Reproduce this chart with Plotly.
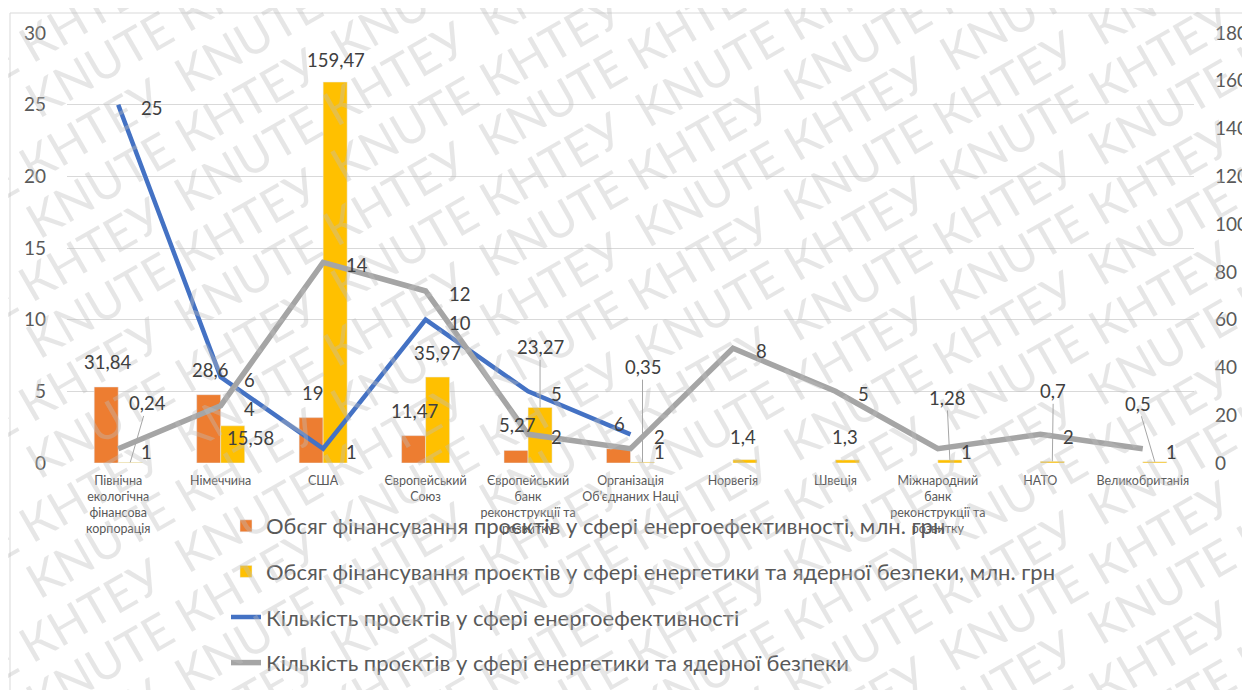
import math

import plotly.graph_objects as go

categories = [
    "Північна екологічна фінансова корпорація",
    "Німеччина",
    "США",
    "Європейський Союз",
    "Європейський банк реконструкції та розвитку",
    "Організація Об’єднаних Націй",
    "Норвегія",
    "Швеція",
    "Міжнародний банк реконструкції та розвитку",
    "НАТО",
    "Великобританія",
]
tick_labels = [
    "Північна<br>екологічна<br>фінансова<br>корпорація",
    "Німеччина",
    "США",
    "Європейський<br>Союз",
    "Європейський<br>банк<br>реконструкції та<br>розвитку",
    "Організація<br>Об’єднаних Наці",
    "Норвегія",
    "Швеція",
    "Міжнародний<br>банк<br>реконструкції та<br>розвитку",
    "НАТО",
    "Великобританія",
]

# financing, mln UAH (right axis)
funding_efficiency = [31.84, 28.6, 19, 11.47, 5.27, 6, None, None, None, None, None]
funding_nuclear = [0.24, 15.58, 159.47, 35.97, 23.27, 0.35, 1.4, 1.3, 1.28, 0.7, 0.5]
# number of projects (left axis)
projects_efficiency = [25, 6, 1, 10, 5, 2, None, None, None, None, None]
projects_nuclear = [1, 4, 14, 12, 2, 1, 8, 5, 1, 2, 1]

names = [
    "Обсяг фінансування проєктів у сфері енергоефективності, млн. грн",
    "Обсяг фінансування проєктів у сфері енергетики та ядерної безпеки, млн. грн",
    "Кількість проєктів у сфері енергоефективності",
    "Кількість проєктів у сфері енергетики та ядерної безпеки",
]

FONT = "Lato"
LABEL_COLOR = "#404040"
AXIS_COLOR = "#595959"

# the page body adds an 8px margin, so the figure is 8px smaller and
# every screen position below is shifted by it
PAGE = 8
W, H = 1250 - PAGE, 690 - PAGE
L, R, T, B = 67 - PAGE, 56, 33 - PAGE, 227
PW, PH = W - L - R, H - T - B


def fmt(v):
    return f"{v:g}".replace(".", ",")


def px_to_paper(px, py):
    # screen pixel -> paper fraction
    return (px - PAGE - L) / PW, (H - B - (py - PAGE)) / PH


fig = go.Figure()

fig.add_trace(go.Bar(x=categories, y=funding_efficiency, name=names[0], marker_color="#ED7D31",
                     legendgroup="a", yaxis="y"))
fig.add_trace(go.Bar(x=categories, y=funding_nuclear, name=names[1], marker_color="#FFC000",
                     legendgroup="b", yaxis="y"))
fig.add_trace(go.Scatter(x=categories, y=projects_efficiency, name=names[2], mode="lines",
                         line=dict(color="#4472C4", width=4.5), legendgroup="c", yaxis="y2"))
fig.add_trace(go.Scatter(x=categories, y=projects_nuclear, name=names[3], mode="lines",
                         line=dict(color="#A5A5A5", width=5.5), legendgroup="d", yaxis="y2"))

label_font = dict(family=FONT, size=18.5, color=LABEL_COLOR)
annotations = []

# watermark: parallel rows at 30 degrees, every other row slid along its own direction
wm_text = "  ".join(["KNUTE КНТЕУ"] * 7)
angle = math.radians(30)
for i, cy in enumerate(range(-420, 1130, 60)):
    slide = (i % 2) * 180
    xp, yp = px_to_paper(625 + slide * math.cos(angle), cy - slide * math.sin(angle))
    annotations.append(dict(x=xp, y=yp, xref="paper", yref="paper", xanchor="center", yanchor="middle",
                            text=wm_text, showarrow=False, textangle=-30,
                            font=dict(family=FONT, size=48, color="rgba(190,190,190,0.38)")))

# orange bar labels
for cat, v in zip(categories, funding_efficiency):
    if v is None:
        continue
    annotations.append(dict(x=cat, y=v, xref="x", yref="y", text=fmt(v), showarrow=False,
                            xshift=-11, yshift=25, font=label_font))

# yellow bar labels: (dx, dy, leader line)
nuclear_offsets = [(17, -59, True), (18, 12, False), (1, -22, False), (0, -24, False), (0, -60, True),
                   (0, -95, True), (-2, -23, False), (-2, -23, False), (-3, -62, True), (1, -70, True),
                   (-17, -58, True)]
for cat, v, (dx, dy, leader) in zip(categories, funding_nuclear, nuclear_offsets):
    if leader:
        annotations.append(dict(x=cat, y=v, xref="x", yref="y", text=fmt(v), showarrow=True,
                                ax=dx, ay=dy, xshift=12, arrowhead=0, arrowwidth=1,
                                arrowcolor="#A6A6A6", standoff=0, font=label_font))
    else:
        annotations.append(dict(x=cat, y=v, xref="x", yref="y", text=fmt(v), showarrow=False,
                                xshift=12 + dx, yshift=-dy, font=label_font))

# line labels, to the right of the points
for series in (projects_efficiency, projects_nuclear):
    for cat, v in zip(categories, series):
        if v is None:
            continue
        annotations.append(dict(x=cat, y=v, xref="x", yref="y2", text=fmt(v), showarrow=False,
                                xanchor="left", xshift=21, yshift=-3, font=label_font))

# outer chart border
bx0, by0 = px_to_paper(10, 13)
bx1, by1 = px_to_paper(1270, 720)
lx, ly = px_to_paper(226, 505)

fig.update_layout(
    width=W,
    height=H,
    margin=dict(l=L, r=R, t=T, b=B, autoexpand=False),
    paper_bgcolor="white",
    plot_bgcolor="white",
    barmode="group",
    bargap=0.531,
    bargroupgap=0,
    font=dict(family=FONT, color=AXIS_COLOR),
    xaxis=dict(type="category", tickvals=categories, ticktext=tick_labels, showgrid=False,
               showline=False, ticks="", ticklabelstandoff=8, automargin=False,
               tickfont=dict(family=FONT, size=12.5, color=AXIS_COLOR)),
    yaxis=dict(side="right", range=[0, 180], dtick=20, showgrid=False, zeroline=False, automargin=False,
               showline=False, ticklabelstandoff=20, tickfont=dict(family=FONT, size=19, color=AXIS_COLOR)),
    yaxis2=dict(overlaying="y", side="left", range=[0, 30], dtick=5, showgrid=True, gridcolor="#D9D9D9",
                gridwidth=1, zeroline=False, showline=False, ticklabelstandoff=20, automargin=False,
                tickfont=dict(family=FONT, size=19, color=AXIS_COLOR)),
    legend=dict(orientation="v", x=lx, xanchor="left", y=ly, yanchor="top",
                font=dict(family=FONT, size=22, color=AXIS_COLOR), tracegroupgap=14,
                bgcolor="rgba(0,0,0,0)"),
    annotations=annotations,
    shapes=[dict(type="rect", xref="paper", yref="paper", x0=bx0, y0=by1, x1=bx1, y1=by0,
                 line=dict(color="#D9D9D9", width=1), layer="below")],
)

fig.write_html("out.html")
